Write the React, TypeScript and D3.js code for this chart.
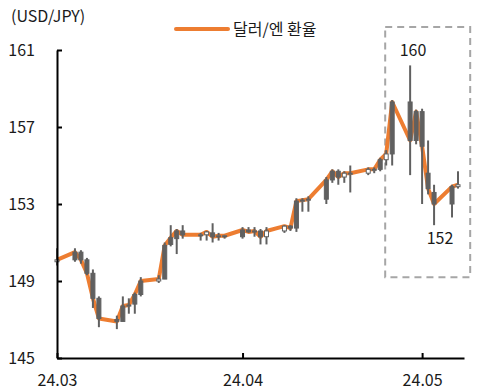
import React, { useEffect, useRef } from 'react';
import * as d3 from 'd3';

// trading days (2024)
const dates = [
  '2024-03-01', '2024-03-04', '2024-03-05', '2024-03-06', '2024-03-07', '2024-03-08',
  '2024-03-11', '2024-03-12', '2024-03-13', '2024-03-14', '2024-03-15',
  '2024-03-18', '2024-03-19', '2024-03-20', '2024-03-21', '2024-03-22',
  '2024-03-25', '2024-03-26', '2024-03-27', '2024-03-28', '2024-03-29',
  '2024-04-01', '2024-04-02', '2024-04-03', '2024-04-04', '2024-04-05',
  '2024-04-08', '2024-04-09', '2024-04-10', '2024-04-11', '2024-04-12',
  '2024-04-15', '2024-04-16', '2024-04-17', '2024-04-18', '2024-04-19',
  '2024-04-22', '2024-04-23', '2024-04-24', '2024-04-25', '2024-04-26',
  '2024-04-29', '2024-04-30', '2024-05-01', '2024-05-02', '2024-05-03',
  '2024-05-06', '2024-05-07',
];
const openVals = [
  150.0, 150.1, 150.5, 150.1, 149.4, 148.1,
  147.0, 146.9, 147.7, 147.8, 148.3,
  149.0, 149.1, 150.9, 151.2, 151.6,
  151.4, 151.4, 151.5, 151.3, 151.3,
  151.3, 151.65, 151.55, 151.6, 151.3,
  151.6, 151.85, 151.75, 153.15, 153.2,
  153.25, 154.25, 154.7, 154.4, 154.6,
  154.6, 154.75, 154.8, 155.3, 155.6,
  158.3, 156.3, 157.8, 154.6, 153.6,
  153.0, 153.9,
];
const highVals = [
  150.7, 150.7, 150.6, 150.2, 149.6, 148.2,
  147.2, 148.2, 148.1, 148.4, 149.2,
  149.3, 151.0, 151.9, 151.7, 151.9,
  151.5, 151.6, 152.0, 151.5, 151.4,
  151.8, 151.8, 151.8, 151.7, 151.8,
  151.9, 151.9, 153.3, 153.3, 153.4,
  154.4, 154.8, 154.8, 154.7, 155.0,
  154.9, 154.9, 155.4, 155.8, 158.4,
  160.2, 157.9, 157.95, 156.3, 154.0,
  154.0, 154.7,
];
const lowVals = [
  149.8, 150.0, 149.9, 149.3, 147.6, 146.6,
  146.5, 146.9, 147.3, 147.3, 148.2,
  148.9, 149.1, 150.8, 150.4, 151.2,
  151.1, 151.1, 151.0, 151.1, 151.2,
  151.2, 151.5, 151.3, 150.9, 150.9,
  151.5, 151.6, 151.55, 152.6, 152.6,
  153.0, 154.1, 154.0, 154.1, 153.6,
  154.5, 154.6, 154.7, 155.0, 155.0,
  154.5, 156.1, 153.0, 153.5, 151.9,
  152.3, 153.8,
];
const closeVals = [
  150.1, 150.5, 150.1, 149.4, 148.1, 147.05,
  146.9, 147.7, 147.75, 148.3, 149.0,
  149.1, 150.85, 151.25, 151.6, 151.4,
  151.4, 151.55, 151.3, 151.35, 151.35,
  151.65, 151.55, 151.6, 151.3, 151.6,
  151.85, 151.75, 153.15, 153.2, 153.25,
  154.25, 154.7, 154.4, 154.6, 154.6,
  154.8, 154.8, 155.3, 155.6, 158.3,
  156.3, 157.8, 156.0, 153.8, 153.0,
  153.9, 154.0,
];
const yTicks = [145, 149, 153, 157, 161];
const xTicks = ['2024-03-01', '2024-04-01', '2024-05-01'];
const seriesName = '달러/엔 환율';
const unitLabel = '(USD/JPY)';
const highNote = '160';
const lowNote = '152';

const FONT = '"Noto Sans CJK KR", "Noto Sans", sans-serif';
const CANDLE = '#606060';

const App = () => {
  const ref = useRef<SVGSVGElement>(null);

  useEffect(() => {
    const width = 488;
    const height = 391;
    const svg = d3.select(ref.current).attr('width', width).attr('height', height);
    svg.selectAll('*').remove();

    const parse = d3.timeParse('%Y-%m-%d');
    const data = dates.map((d, i) => ({
      date: parse(d) as Date,
      o: openVals[i],
      h: highVals[i],
      l: lowVals[i],
      c: closeVals[i],
    }));

    const x = d3
      .scaleTime()
      .domain([parse('2024-03-01') as Date, parse('2024-05-08') as Date])
      .range([57, 464]);
    const y = d3.scaleLinear().domain([145, 161]).range([358, 50]);

    // unit label
    svg
      .append('text')
      .attr('x', 11)
      .attr('y', 22)
      .style('font-family', FONT)
      .style('font-size', '16px')
      .style('fill', '#1a1a1a')
      .text(unitLabel);

    // legend
    svg
      .append('line')
      .attr('x1', 176)
      .attr('x2', 228)
      .attr('y1', 29)
      .attr('y2', 29)
      .attr('stroke', '#ED7D31')
      .attr('stroke-width', 4)
      .attr('stroke-linecap', 'round');
    svg
      .append('text')
      .attr('x', 233)
      .attr('y', 35)
      .style('font-family', FONT)
      .style('font-size', '16px')
      .style('fill', '#1a1a1a')
      .text(seriesName);

    // highlight box
    svg
      .append('rect')
      .attr('x', x(parse('2024-04-25') as Date) - 1)
      .attr('y', y(162.2))
      .attr('width', 85)
      .attr('height', y(149.2) - y(162.2))
      .attr('fill', 'none')
      .attr('stroke', '#A6A6A6')
      .attr('stroke-width', 2)
      .attr('stroke-dasharray', '7,5');

    // close line
    const line = d3
      .line<any>()
      .x((d) => x(d.date))
      .y((d) => y(d.c));
    svg
      .append('path')
      .datum(data)
      .attr('d', line)
      .attr('fill', 'none')
      .attr('stroke', '#ED7D31')
      .attr('stroke-width', 4)
      .attr('stroke-linejoin', 'round');

    // candles
    const candles = svg.append('g');
    candles
      .selectAll('.wick')
      .data(data)
      .enter()
      .append('line')
      .attr('x1', (d) => x(d.date))
      .attr('x2', (d) => x(d.date))
      .attr('y1', (d) => y(d.h))
      .attr('y2', (d) => y(d.l))
      .attr('stroke', CANDLE)
      .attr('stroke-width', 2);
    candles
      .selectAll('.body')
      .data(data)
      .enter()
      .append('rect')
      .attr('x', (d) => x(d.date) - 2)
      .attr('width', 4)
      .attr('y', (d) => y(Math.max(d.o, d.c)))
      .attr('height', (d) => Math.max(1, Math.abs(y(d.o) - y(d.c))))
      // tiny rising bodies show as small hollow boxes
      .attr('fill', (d) => (d.c >= d.o && Math.abs(y(d.o) - y(d.c)) < 6 ? '#fff' : CANDLE))
      .attr('stroke', CANDLE)
      .attr('stroke-width', 1);

    // y axis
    const yAxis = svg
      .append('g')
      .attr('transform', 'translate(57,0)')
      .call(d3.axisLeft(y).tickValues(yTicks).tickSize(-5).tickSizeOuter(0).tickPadding(22).tickFormat(d3.format('d')));
    yAxis.select('.domain').attr('stroke', '#000').attr('stroke-width', 2);
    yAxis.selectAll('.tick line').attr('stroke', '#000').attr('stroke-width', 2);
    yAxis
      .selectAll('.tick text')
      .style('font-family', FONT)
      .style('font-size', '16px')
      .style('fill', '#1a1a1a');

    // x axis
    const xAxis = svg
      .append('g')
      .attr('transform', 'translate(0,358)')
      .call(
        d3
          .axisBottom(x)
          .tickValues(xTicks.map((d) => parse(d) as Date))
          .tickSize(-5)
          .tickSizeOuter(0)
          .tickPadding(17)
          .tickFormat((d) => d3.timeFormat('%y.%m')(d as Date))
      );
    xAxis.select('.domain').attr('stroke', '#000').attr('stroke-width', 2);
    xAxis.selectAll('.tick line').attr('stroke', '#000').attr('stroke-width', 2);
    xAxis
      .selectAll('.tick text')
      .style('font-family', FONT)
      .style('font-size', '16px')
      .style('fill', '#1a1a1a');

    // annotations
    svg
      .append('text')
      .attr('x', 413)
      .attr('y', 56)
      .attr('text-anchor', 'middle')
      .style('font-family', FONT)
      .style('font-size', '16px')
      .style('fill', '#1a1a1a')
      .text(highNote);
    svg
      .append('text')
      .attr('x', 440)
      .attr('y', 244)
      .attr('text-anchor', 'middle')
      .style('font-family', FONT)
      .style('font-size', '16px')
      .style('fill', '#1a1a1a')
      .text(lowNote);
  }, []);

  return <svg ref={ref} style={{ position: 'absolute', left: 0, top: 0 }}></svg>;
};

export default App;
